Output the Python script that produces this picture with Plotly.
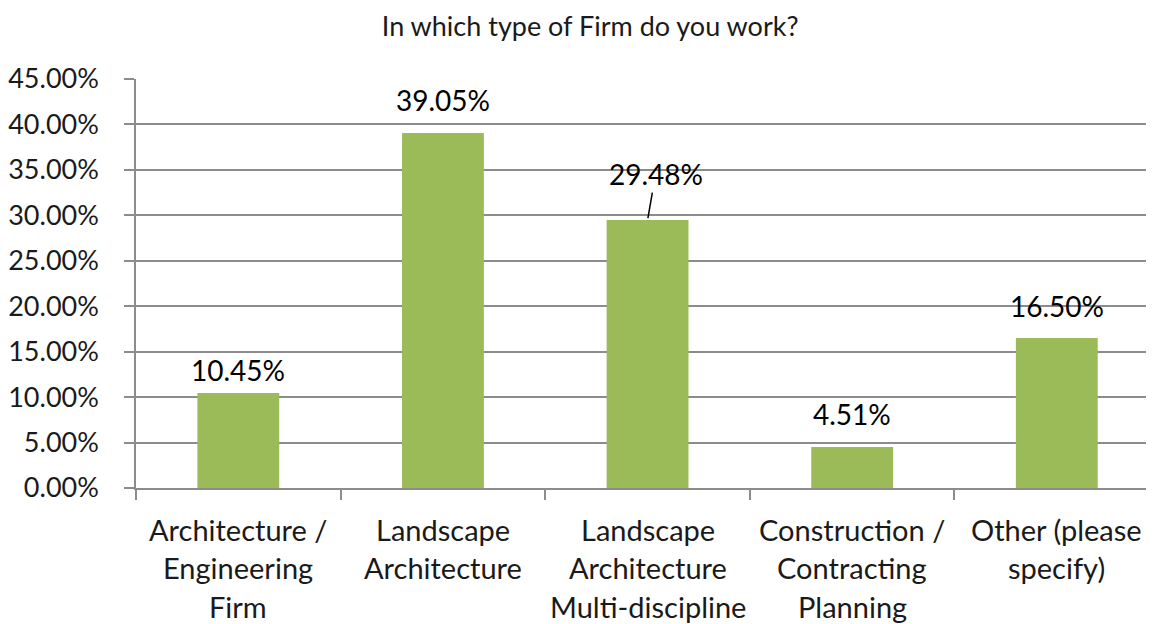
import plotly.graph_objects as go

categories = ["Architecture / Engineering Firm", "Landscape Architecture",
              "Landscape Architecture Multi-discipline",
              "Construction / Contracting Planning", "Other (please specify)"]
category_lines = [["Architecture /", "Engineering", "Firm"],
                  ["Landscape", "Architecture"],
                  ["Landscape", "Architecture", "Multi-discipline"],
                  ["Construction /", "Contracting", "Planning"],
                  ["Other (please", "specify)"]]
values = [10.45, 39.05, 29.48, 4.51, 16.50]
y_ticks = [0, 5, 10, 15, 20, 25, 30, 35, 40, 45]

FONT = "Lato"
TXT = "#1a1a1a"
GRID = "#8C8C8C"

fig = go.Figure()
fig.add_trace(go.Bar(x=list(range(len(categories))), y=values, width=0.4,
                     marker=dict(color="#9BBB59", line=dict(width=0)),
                     hoverinfo="skip"))

label_shift = [4, 14, None, 14, 13]
annotations = []
for i, v in enumerate(values):
    txt = f"{v:.2f}%"
    if label_shift[i] is None:
        annotations.append(dict(x=i, y=v, xref="x", yref="y", text=txt,
                                showarrow=True, arrowhead=0, arrowwidth=1.5,
                                arrowcolor="#000000", ax=8, ay=-46,
                                standoff=2, startstandoff=0,
                                font=dict(family=FONT, size=28, color="#000000")))
    else:
        annotations.append(dict(x=i, y=v, xref="x", yref="y", text=txt,
                                showarrow=False, yanchor="bottom",
                                yshift=label_shift[i],
                                font=dict(family=FONT, size=28, color="#000000")))

for i, lines in enumerate(category_lines):
    for j, line in enumerate(lines):
        annotations.append(dict(x=i, y=0, xref="x", yref="paper", text=line,
                                showarrow=False, yanchor="middle",
                                yshift=-(41 + 38.5 * j),
                                font=dict(family=FONT, size=29, color=TXT)))

fig.update_layout(
    width=1146, height=616,
    margin=dict(l=128, r=0, t=71, b=136),
    paper_bgcolor="white", plot_bgcolor="white",
    showlegend=False,
    title=dict(text="In which type of Firm do you work?", x=0.508, xref="container",
               xanchor="center", y=0.9692, yref="container", yanchor="middle",
               font=dict(family=FONT, size=27, color=TXT)),
    annotations=annotations,
    bargap=0.6,
)
fig.update_xaxes(type="linear", range=[-0.5, 4.475], tickvals=[-0.5, 0.5, 1.5, 2.5, 3.5, 4.5],
                 showticklabels=False, ticks="outside", ticklen=10, tickcolor=GRID,
                 tickwidth=1.5, showline=True, linecolor=GRID, linewidth=1.5,
                 showgrid=False, zeroline=False, fixedrange=True)
fig.update_yaxes(range=[0, 45], tickvals=y_ticks,
                 ticktext=[f"{t:.2f}%" for t in y_ticks],
                 ticks="outside", ticklen=10, tickcolor=GRID, tickwidth=1.5,
                 showline=True, linecolor=GRID, linewidth=1.5,
                 showgrid=True, gridcolor=GRID, gridwidth=1.5, zeroline=False,
                 ticklabelstandoff=20,
                 tickfont=dict(family=FONT, size=27, color=TXT))

fig.write_html("out.html")
